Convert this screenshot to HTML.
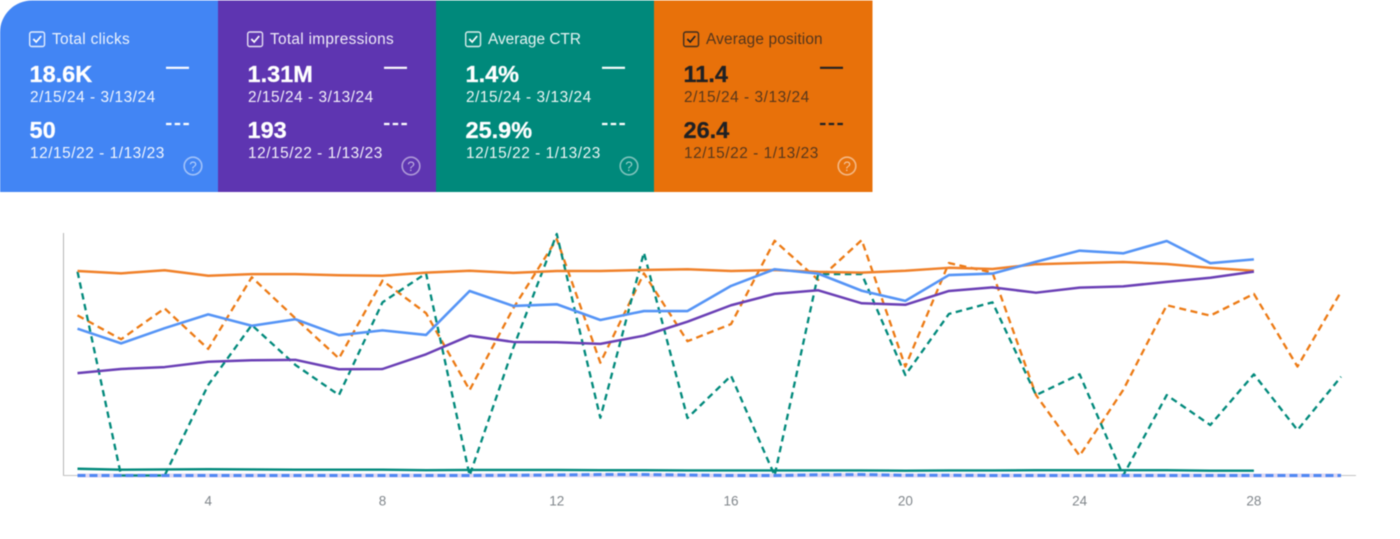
<!DOCTYPE html>
<html lang="en">
<head>
<meta charset="utf-8">
<title>Search performance comparison</title>
<style>
html,body{margin:0;padding:0;background:#fff;width:1400px;height:539px;overflow:hidden}
svg{display:block}
text{font-family:"Liberation Sans",Arial,sans-serif}
.ttl{font-size:15.4px;letter-spacing:.3px}
.val{font-size:23.5px;font-weight:bold;stroke:currentColor;stroke-width:.25px}
.dat{font-size:15.4px;letter-spacing:.55px;opacity:.93}
.tick{font-size:13.5px;fill:#80868b;text-anchor:middle}
.soft{filter:blur(.4px)}
</style>
</head>
<body>
<svg id="page" xmlns="http://www.w3.org/2000/svg" width="1400" height="539" viewBox="0 0 1400 539">
  <g class="soft">
    <g fill="#fff" color="#fff" stroke="none">
      <path d="M32 0.5H218V192H0V32A32 32 0 0 1 32 0.5Z" fill="#4285f4"/>
      <rect x="29.7" y="32" width="14.8" height="14.5" rx="2" fill="none" stroke="#fff" stroke-width="1.4" opacity=".85"/>
      <path d="M33.3 39l2.9 3 5-6" fill="none" stroke="#fff" stroke-width="1.7"/>
      <text class="ttl" x="52" y="44" opacity=".9">Total clicks</text>
      <text class="val" x="29.5" y="82">18.6K</text>
      <text class="dat" x="30" y="102">2/15/24 - 3/13/24</text>
      <text class="val" x="29.5" y="138">50</text>
      <text class="dat" x="30" y="158">12/15/22 - 1/13/23</text>
      <path d="M166 67.8H189" stroke="#fff" stroke-width="2.2"/>
      <path d="M166 124H189" stroke="#fff" stroke-width="2.2" stroke-dasharray="5.5 3.2"/>
      <circle cx="193" cy="166" r="8.8" fill="none" stroke="#fff" stroke-width="1.6" opacity=".5"/>
      <text x="193" y="171" font-size="13.5" text-anchor="middle" opacity=".6">?</text>
    </g>
    <g transform="translate(218 0)" fill="#fff" color="#fff" stroke="none">
      <rect y="0.5" width="218" height="191.5" fill="#5e35b1"/>
      <rect x="29.7" y="32" width="14.8" height="14.5" rx="2" fill="none" stroke="#fff" stroke-width="1.4" opacity=".85"/>
      <path d="M33.3 39l2.9 3 5-6" fill="none" stroke="#fff" stroke-width="1.7"/>
      <text class="ttl" x="52" y="44" opacity=".9">Total impressions</text>
      <text class="val" x="29.5" y="82">1.31M</text>
      <text class="dat" x="30" y="102">2/15/24 - 3/13/24</text>
      <text class="val" x="29.5" y="138">193</text>
      <text class="dat" x="30" y="158">12/15/22 - 1/13/23</text>
      <path d="M166 67.8H189" stroke="#fff" stroke-width="2.2"/>
      <path d="M166 124H189" stroke="#fff" stroke-width="2.2" stroke-dasharray="5.5 3.2"/>
      <circle cx="193" cy="166" r="8.8" fill="none" stroke="#fff" stroke-width="1.6" opacity=".5"/>
      <text x="193" y="171" font-size="13.5" text-anchor="middle" opacity=".6">?</text>
    </g>
    <g transform="translate(436 0)" fill="#fff" color="#fff" stroke="none">
      <rect y="0.5" width="218" height="191.5" fill="#00897b"/>
      <rect x="29.7" y="32" width="14.8" height="14.5" rx="2" fill="none" stroke="#fff" stroke-width="1.4" opacity=".85"/>
      <path d="M33.3 39l2.9 3 5-6" fill="none" stroke="#fff" stroke-width="1.7"/>
      <text class="ttl" x="52" y="44" opacity=".9" style="letter-spacing:0">Average CTR</text>
      <text class="val" x="29.5" y="82">1.4%</text>
      <text class="dat" x="30" y="102">2/15/24 - 3/13/24</text>
      <text class="val" x="29.5" y="138">25.9%</text>
      <text class="dat" x="30" y="158">12/15/22 - 1/13/23</text>
      <path d="M166 67.8H189" stroke="#fff" stroke-width="2.2"/>
      <path d="M166 124H189" stroke="#fff" stroke-width="2.2" stroke-dasharray="5.5 3.2"/>
      <circle cx="193" cy="166" r="8.8" fill="none" stroke="#fff" stroke-width="1.6" opacity=".5"/>
      <text x="193" y="171" font-size="13.5" text-anchor="middle" opacity=".6">?</text>
    </g>
    <g transform="translate(654 0)" fill="#202124" color="#202124" stroke="none">
      <rect y="0.5" width="218.5" height="191.5" fill="#e8710a"/>
      <rect x="29.7" y="32" width="14.8" height="14.5" rx="2" fill="none" stroke="#202124" stroke-width="1.4" opacity=".85"/>
      <path d="M33.3 39l2.9 3 5-6" fill="none" stroke="#202124" stroke-width="1.7"/>
      <text class="ttl" x="52" y="44" opacity=".75" style="letter-spacing:.15px">Average position</text>
      <text class="val" x="29.5" y="82">11.4</text>
      <text class="dat" x="30" y="102" style="opacity:.72">2/15/24 - 3/13/24</text>
      <text class="val" x="29.5" y="138">26.4</text>
      <text class="dat" x="30" y="158" style="opacity:.72">12/15/22 - 1/13/23</text>
      <path d="M166 67.8H189" stroke="#202124" stroke-width="2.2"/>
      <path d="M166 124H189" stroke="#202124" stroke-width="2.2" stroke-dasharray="5.5 3.2"/>
      <circle cx="193" cy="166" r="8.8" fill="none" stroke="#fff" stroke-width="1.6" opacity=".5"/>
      <text x="193" y="171" font-size="13.5" text-anchor="middle" fill="#fff" opacity=".6">?</text>
    </g>
  </g>
  <g id="chart" class="soft"></g>
</svg>
<script>
const days = [1,2,3,4,5,6,7,8,9,10,11,12,13,14,15,16,17,18,19,20,21,22,23,24,25,26,27,28,29,30];
const tickLabels = [4,8,12,16,20,24,28];
const clicksCurrent = [60.8,54.7,61.0,66.7,62.0,64.7,58.1,60.1,58.2,76.4,70.2,70.9,64.4,68.1,68.1,78.5,85.4,83.6,76.5,72.3,83.0,83.6,88.5,93.1,92.0,97.1,87.9,89.5];
const impressionsCurrent = [42.4,44.1,44.9,47.1,47.7,47.9,44.0,44.1,50.2,57.9,55.3,55.2,54.5,57.9,63.7,70.5,75.2,76.7,71.3,70.7,76.4,77.9,75.7,77.8,78.3,80.2,81.9,84.4];
const ctrCurrent = [2.8,2.4,2.5,2.6,2.5,2.4,2.4,2.4,2.2,2.3,2.3,2.3,2.2,2.2,2.1,2.1,2.1,2.1,2.1,2.0,2.1,2.1,2.2,2.2,2.2,2.2,2.0,2.0];
const positionCurrent = [84.7,83.7,85.0,82.7,83.4,83.4,82.9,82.7,84.0,84.8,83.9,84.7,84.7,85.1,85.4,84.7,85.1,84.3,84.0,84.8,86.0,85.5,87.5,88.0,88.4,87.6,86.0,84.8];
const clicksPrevious = [0,0,0,0,0,0,0,0,0,0,0.1,0.2,0.4,0.4,0.2,0,0,0.3,0.4,0.1,0.1,0,0,0,0,0,0,0,0,0];
const impressionsPrevious = [0,0,0,0,0,0,0,0,0,0,0,0.1,0.1,0.1,0,0,0,0.1,0.1,0,0,0,0,0,0,0,0,0,0,0];
const ctrPrevious = [84.4,0,0,37.5,62.3,45.8,33.3,71.7,83.7,0,52.8,100,23.9,92.3,23.8,41.3,0,83.4,83.4,41.6,66.9,71.7,33.3,41.9,0,33.3,20.9,41.9,18.8,40.9];
const positionPrevious = [66.3,56.4,69.2,52.4,82.1,65.1,48.5,80.7,67.2,35.4,69.2,97.9,46.7,83.7,55.6,62.7,97.2,81.0,97.5,45.1,88.0,84.0,33.3,8.2,35.4,70.5,66.2,75.2,45.1,76.1];

const SVG_NS = 'http://www.w3.org/2000/svg';
const chart = document.getElementById('chart');
function xScale(day){ return 77.5 + (day - 1) * 43.57; }
function yScale(v){ return 475.5 - v * 2.415; }

const axisY = document.createElementNS(SVG_NS, 'path');


axisY.setAttribute('d', 'M63.5 233V475.5');
axisY.setAttribute('stroke', '#b5b5b5');
axisY.setAttribute('fill', 'none');
chart.appendChild(axisY);

const axisX = document.createElementNS(SVG_NS, 'path');


axisX.setAttribute('d', 'M63 475.5H1356');
axisX.setAttribute('stroke', '#c4c4c4');
axisX.setAttribute('fill', 'none');
chart.appendChild(axisX);

tickLabels.forEach(function(t){
  const label = document.createElementNS(SVG_NS, 'text');
  
  
  label.setAttribute('class', 'tick');
  label.setAttribute('x', xScale(t));
  label.setAttribute('y', 505.5);
  label.textContent = t;
  chart.appendChild(label);
});

function drawSeries(name, values, color, dash, width){
  const line = document.createElementNS(SVG_NS, 'polyline');
  
  
  const pts = values.map(function(v, i){ return xScale(days[i]).toFixed(2) + ',' + yScale(v).toFixed(2); });
  line.setAttribute('points', pts.join(' '));
  line.setAttribute('fill', 'none');
  line.setAttribute('stroke', color);
  line.setAttribute('stroke-width', width);
  line.setAttribute('stroke-linejoin', 'round');
  if (dash) line.setAttribute('stroke-dasharray', dash);
  chart.appendChild(line);
}

drawSeries('impressions-previous-line', impressionsPrevious, '#e0d8f2', '', 4);
drawSeries('position-previous-line', positionPrevious, '#ec7a14', '7 4.5', 2.3);
drawSeries('ctr-previous-line', ctrPrevious, '#00897b', '6.5 4.5', 2.3);
drawSeries('position-current-line', positionCurrent, '#f0812a', '', 2.5);
drawSeries('ctr-current-line', ctrCurrent, '#00897b', '', 2.4);
drawSeries('impressions-current-line', impressionsCurrent, '#6a3fb5', '', 2.5);
drawSeries('clicks-current-line', clicksCurrent, '#5594f6', '', 2.6);
drawSeries('clicks-previous-line', clicksPrevious, '#4f88f3', '8 4', 3);
</script>
</body>
</html>
